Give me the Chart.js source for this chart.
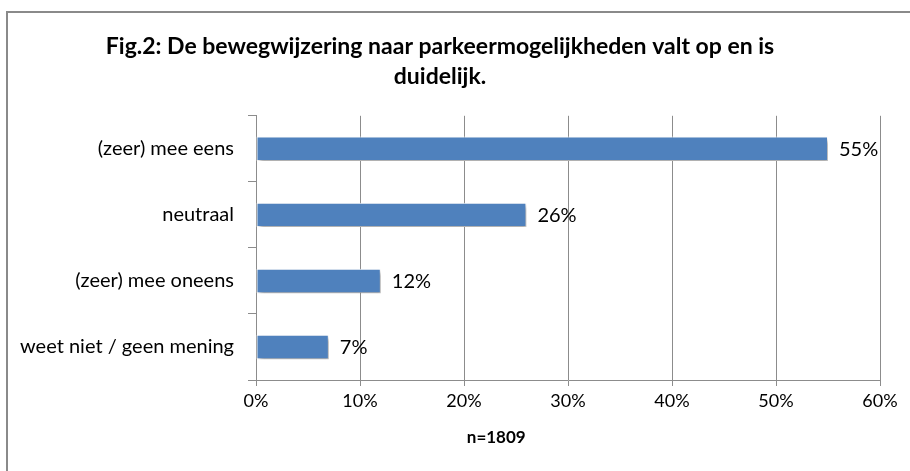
<!DOCTYPE html>
<html><head><meta charset="utf-8">
<script src="https://cdn.jsdelivr.net/npm/chart.js@4/dist/chart.umd.min.js"></script>
<style>
html,body{margin:0;padding:0;background:#fff;overflow:hidden;}
#wrap{position:relative;width:910px;height:471px;}
#frame{position:absolute;left:6px;top:11px;width:920px;height:480px;border:2px solid #8a8a8a;box-sizing:border-box;}
canvas{position:absolute;left:0;top:0;}
</style></head>
<body><div id="wrap"><div id="frame"></div><canvas id="c" width="910" height="471"></canvas></div>
<script>
const categories = ["(zeer) mee eens", "neutraal", "(zeer) mee oneens", "weet niet / geen mening"];
const values = [55, 26, 12, 7];
const xTicks = [0, 10, 20, 30, 40, 50, 60];
const titleLines = ["Fig.2: De bewegwijzering naar parkeermogelijkheden valt op en is", "duidelijk."];
const xTitle = "n=1809";

const FONT = "Lato, 'Open Sans', sans-serif";

const shadowPlugin = {
  id: 'shadow',
  beforeDatasetDraw(chart) {
    const ctx = chart.ctx;
    ctx.save();
    ctx.shadowColor = 'rgba(0,0,0,0.35)';
    ctx.shadowBlur = 4;
    ctx.shadowOffsetX = 2;
    ctx.shadowOffsetY = 3;
  },
  afterDatasetDraw(chart) { chart.ctx.restore(); },
  afterDatasetsDraw(chart) {
    const ctx = chart.ctx;
    const meta = chart.getDatasetMeta(0);
    ctx.save();
    ctx.font = "20px " + FONT;
    ctx.fillStyle = '#000';
    ctx.textAlign = 'left';
    ctx.textBaseline = 'middle';
    meta.data.forEach((bar, i) => {
      ctx.fillText(values[i] + '%', bar.x + 11, bar.y + 1);
    });
    ctx.restore();
  },
  afterDraw(chart) {
    const ctx = chart.ctx;
    const xs = chart.scales.x;
    ctx.save();
    ctx.font = "bold 17px " + FONT;
    ctx.fillStyle = '#000';
    ctx.textAlign = 'center';
    ctx.textBaseline = 'middle';
    ctx.fillText(xTitle, xs.left + (xs.right - xs.left) * 0.385, 438);
    ctx.restore();
  }
};

new Chart(document.getElementById('c'), {
  type: 'bar',
  data: {
    labels: categories,
    datasets: [{
      data: values,
      backgroundColor: '#4F81BD',
      borderColor: '#ffffff',
      borderWidth: 1,
      borderSkipped: false,
      barPercentage: 0.37,
      categoryPercentage: 1
    }]
  },
  options: {
    indexAxis: 'y',
    responsive: false,
    animation: false,
    layout: { padding: { left: 0, right: 30, top: 0, bottom: 0 } },
    plugins: {
      legend: { display: false },
      tooltip: { enabled: false },
      title: {
        display: true,
        text: titleLines,
        color: '#000',
        font: { family: FONT, size: 23, weight: 'bold', lineHeight: 1.3 },
        padding: { top: 32, bottom: 24 }
      }
    },
    scales: {
      x: {
        min: 0, max: 60,
        afterBuildTicks(scale) { scale.ticks = xTicks.map(v => ({ value: v })); },
        afterFit(scale) { scale.height = 91; },
        ticks: {
          callback: v => v + '%',
          color: '#000',
          font: { family: FONT, size: 18 },
          padding: 4,
          maxRotation: 0
        },
        grid: { color: '#8c8c8c', lineWidth: 1, tickLength: 6, drawTicks: true },
        border: { color: '#8c8c8c' }
      },
      y: {
        afterFit(scale) { scale.width = 256; },
        ticks: {
          color: '#000',
          font: { family: FONT, size: 20 },
          padding: 14
        },
        grid: { drawOnChartArea: false, offset: true, tickLength: 8, color: '#8c8c8c' },
        border: { color: '#8c8c8c' }
      }
    }
  },
  plugins: [shadowPlugin]
});
</script>
</body></html>
